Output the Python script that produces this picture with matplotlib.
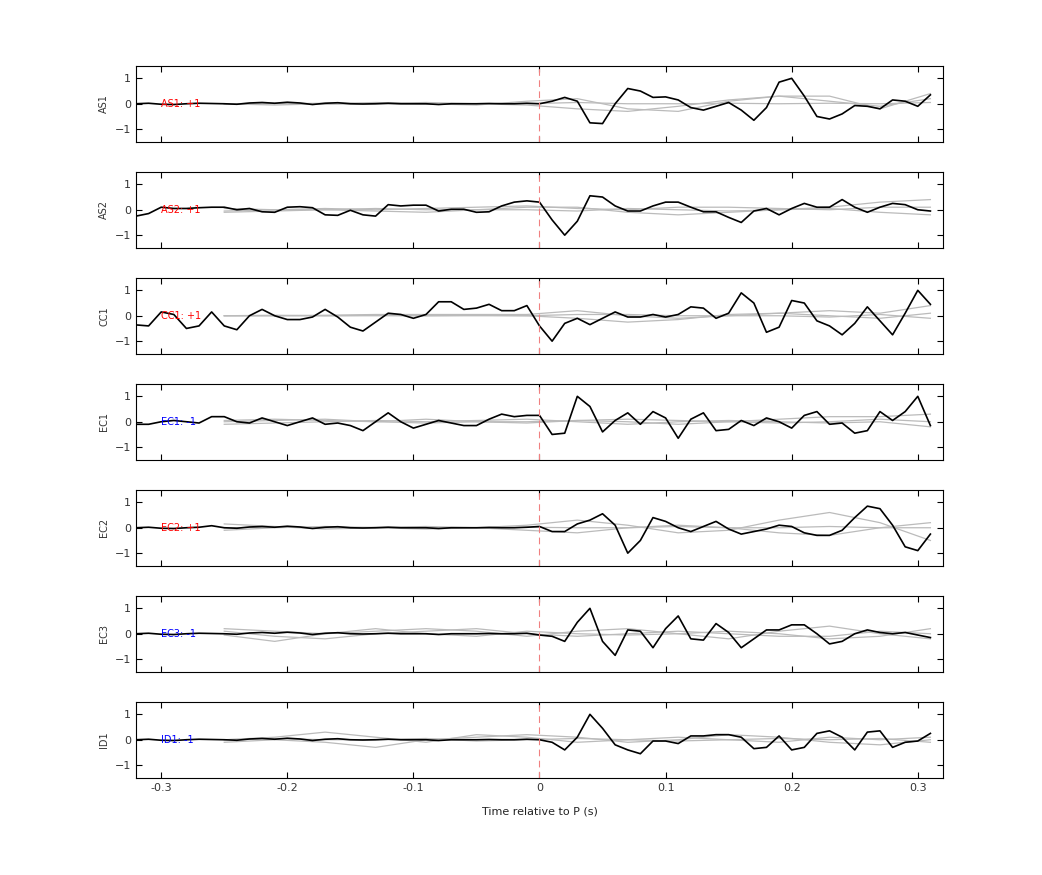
import numpy as np
import matplotlib.pyplot as plt

# time axis of the stacked traces (s)
t = np.round(np.arange(-0.32, 0.315, 0.01), 2)
tg = np.round(np.arange(-0.25, 0.32, 0.04), 2)

names = ['AS1', 'AS2', 'CC1', 'EC1', 'EC2', 'EC3', 'ID1']
polarity = ['+1', '+1', '+1', '-1', '+1', '-1', '-1']

pre_flat = [0, 0.02, -0.02, -0.03, 0, 0.02, 0.01, 0.0, -0.02, 0.03,
            0.05, 0.02, 0.06, 0.03, -0.03, 0.02, 0.04, 0.0, -0.01, 0.0,
            0.02, 0.0, 0.0, 0.0, -0.03, 0.0, 0.0, 0.0, 0.01, 0.0,
            0.0, 0.02]

as1 = pre_flat + [0, 0.1, 0.25, 0.1, -0.75, -0.78, 0, 0.6, 0.5, 0.25, 0.27,
                  0.15, -0.15, -0.25, -0.1, 0.05, -0.25, -0.65, -0.15, 0.85, 1.0,
                  0.3, -0.5, -0.6, -0.4, -0.07, -0.1, -0.2, 0.15, 0.1, -0.1, 0.35]
as2 = [-0.25, -0.15, 0.1, 0.05, 0.05, 0.08, 0.1, 0.1, 0.0, 0.05,
       -0.08, -0.1, 0.1, 0.12, 0.08, -0.2, -0.22, -0.02, -0.2, -0.25,
       0.2, 0.15, 0.18, 0.18, -0.05, 0.02, 0.02, -0.1, -0.08, 0.15,
       0.3, 0.35, 0.3, -0.4, -1.0, -0.45, 0.55, 0.5, 0.15, -0.05, -0.05,
       0.15, 0.3, 0.3, 0.1, -0.08, -0.08, -0.3, -0.5, -0.05, 0.05,
       -0.2, 0.05, 0.25, 0.1, 0.1, 0.4, 0.1, -0.1, 0.1, 0.25, 0.2, 0.0, -0.05]
cc1 = [-0.36, -0.4, 0.15, 0.05, -0.5, -0.4, 0.15, -0.4, -0.55, 0.0,
       0.25, 0.0, -0.15, -0.15, -0.05, 0.25, -0.05, -0.45, -0.6, -0.25,
       0.1, 0.05, -0.1, 0.05, 0.55, 0.55, 0.25, 0.3, 0.45, 0.2,
       0.2, 0.4, -0.4, -1.0, -0.3, -0.1, -0.35, -0.1, 0.15, -0.05, -0.05,
       0.05, -0.05, 0.05, 0.35, 0.3, -0.1, 0.1, 0.9, 0.5, -0.65,
       -0.45, 0.6, 0.5, -0.2, -0.4, -0.75, -0.3, 0.35, -0.2, -0.75, 0.1, 1.0, 0.45]
ec1 = [-0.1, -0.1, 0.0, 0.05, 0.0, -0.05, 0.2, 0.2, 0.0, -0.05,
       0.15, 0.0, -0.15, 0.0, 0.15, -0.1, -0.05, -0.15, -0.35, 0.0,
       0.35, 0.0, -0.25, -0.1, 0.05, -0.05, -0.15, -0.15, 0.1, 0.3,
       0.2, 0.25, 0.25, -0.5, -0.45, 1.0, 0.6, -0.4, 0.05, 0.35, -0.1,
       0.4, 0.15, -0.65, 0.1, 0.35, -0.35, -0.3, 0.05, -0.15, 0.15,
       0.0, -0.25, 0.25, 0.4, -0.1, -0.05, -0.45, -0.35, 0.4, 0.05, 0.4, 1.0, -0.15]
ec2 = pre_flat[:6] + [0.08] + pre_flat[7:] + [
    0.05, -0.15, -0.15, 0.15, 0.3, 0.55, 0.1, -1.0, -0.5, 0.4, 0.25,
    0.0, -0.15, 0.05, 0.25, -0.05, -0.25, -0.15, -0.05, 0.1, 0.05,
    -0.2, -0.3, -0.3, -0.1, 0.4, 0.85, 0.75, 0.1, -0.75, -0.9, -0.25]
ec3 = pre_flat + [-0.05, -0.1, -0.3, 0.45, 1.0, -0.3, -0.85, 0.15, 0.1, -0.55, 0.2,
                  0.7, -0.2, -0.25, 0.4, 0.05, -0.55, -0.2, 0.15, 0.15, 0.35,
                  0.35, 0.0, -0.4, -0.3, 0.0, 0.15, 0.05, 0.0, 0.05, -0.05, -0.15]
id1 = pre_flat + [0, -0.1, -0.4, 0.1, 1.0, 0.45, -0.2, -0.4, -0.55, -0.05, -0.05,
                  -0.15, 0.15, 0.15, 0.2, 0.2, 0.1, -0.35, -0.3, 0.15, -0.4,
                  -0.3, 0.25, 0.35, 0.1, -0.4, 0.3, 0.35, -0.3, -0.1, -0.05, 0.25]
traces = [as1, as2, cc1, ec1, ec2, ec3, id1]

# smooth grey comparison traces, coarse samples at tg
grey = [
    [[0, -0.05, 0.0, 0.05, 0.0, -0.05, 0.1, 0.2, -0.2, -0.3, 0.1, 0.3, 0.1, -0.1, 0.2],
     [0, 0.0, 0.02, 0.0, -0.02, 0.0, 0.0, 0.05, 0.0, 0.0, 0.02, 0.0, 0.02, 0.0, 0.05],
     [0, 0.02, -0.02, 0.0, 0.05, 0.0, -0.05, -0.2, -0.3, -0.1, 0.15, 0.3, 0.3, -0.2, 0.4]],
    [[-0.1, -0.05, 0.0, -0.05, -0.1, 0.0, 0.1, 0.1, -0.1, -0.2, -0.1, 0.0, 0.1, 0.3, 0.4],
     [0.05, 0.0, 0.05, 0.0, 0.05, 0.1, 0.15, 0.05, 0.0, 0.1, 0.1, 0.05, 0.0, 0.1, 0.1],
     [-0.05, 0.0, 0.0, 0.05, 0.0, 0.0, 0.0, -0.05, 0.05, 0.0, -0.05, 0.0, 0.05, -0.1, -0.2]],
    [[0, 0.0, 0.02, 0.05, 0.05, 0.05, 0.05, 0.2, 0.0, -0.1, 0.0, 0.1, 0.2, 0.1, 0.4],
     [0, 0.02, 0.0, 0.02, 0.0, 0.02, 0.0, -0.1, -0.25, -0.15, 0.05, 0.1, 0.0, -0.1, 0.1],
     [0, 0.0, 0.0, 0.0, 0.0, 0.0, 0.0, 0.05, 0.05, 0.0, 0.0, 0.0, -0.05, 0.05, -0.1]],
    [[0.05, 0.1, 0.05, 0.0, 0.1, 0.0, -0.05, 0.05, 0.0, -0.1, 0.0, 0.1, 0.2, 0.2, 0.3],
     [-0.1, -0.05, 0.0, 0.05, 0.0, 0.05, 0.1, 0.0, -0.1, 0.0, 0.05, 0.0, -0.05, 0.0, -0.2],
     [0.0, 0.05, 0.1, 0.0, -0.05, 0.0, 0.0, 0.05, 0.1, 0.05, 0.0, -0.05, 0.0, 0.1, 0.0]],
    [[0.15, 0.05, -0.05, 0.0, 0.05, 0.0, 0.1, 0.3, 0.1, -0.2, -0.1, 0.3, 0.6, 0.2, -0.5],
     [-0.1, 0.0, 0.05, 0.0, -0.05, 0.0, -0.1, -0.2, 0.0, 0.1, 0.0, -0.2, -0.3, 0.0, 0.2],
     [0.0, 0.02, 0.0, 0.02, 0.0, 0.0, 0.02, 0.0, 0.0, 0.05, 0.0, 0.0, 0.05, 0.0, 0.0]],
    [[0.2, 0.1, 0.0, 0.1, 0.2, 0.1, -0.1, 0.1, 0.2, 0.0, -0.2, 0.1, 0.3, 0.0, -0.2],
     [0.1, -0.1, -0.2, 0.0, 0.1, 0.2, 0.0, -0.1, 0.0, 0.1, 0.0, -0.1, -0.1, 0.1, 0.0],
     [-0.05, -0.3, 0.0, 0.2, 0.0, -0.1, 0.1, 0.0, -0.05, 0.0, 0.1, 0.0, -0.2, -0.1, 0.2]],
    [[0.0, 0.1, 0.3, 0.1, -0.1, 0.2, 0.1, -0.1, 0.0, 0.1, 0.0, -0.1, 0.1, 0.0, 0.1],
     [-0.1, 0.0, -0.1, -0.3, 0.0, 0.1, 0.2, 0.1, -0.1, 0.0, 0.2, 0.1, -0.1, -0.2, 0.0],
     [0.0, 0.05, 0.0, 0.0, 0.05, -0.05, 0.0, 0.05, 0.0, -0.05, 0.0, 0.05, 0.0, 0.05, -0.1]],
]

fig, axes = plt.subplots(7, 1, figsize=(10.42, 8.75), dpi=100, sharex=True)
fig.subplots_adjust(left=0.1305, right=0.905, top=0.925, bottom=0.111, hspace=0.39)

for i, ax in enumerate(axes):
    for g in grey[i]:
        ax.plot(tg, g, color='#bbbbbb', lw=0.9)
    ax.plot(t, traces[i], color='black', lw=1.2)
    ax.axvline(0, color='#f08080', lw=0.8, ls=(0, (6, 4)))
    col = 'red' if polarity[i] == '+1' else 'blue'
    ax.text(-0.3, 0, names[i] + ': ' + polarity[i], color=col, fontsize=7, va='center')
    ax.set_xlim(-0.32, 0.32)
    ax.set_ylim(-1.5, 1.5)
    ax.set_yticks([-1, 0, 1])
    ax.set_xticks([-0.3, -0.2, -0.1, 0, 0.1, 0.2, 0.3])
    ax.set_ylabel(names[i], fontsize=7, color='#333333')
    ax.tick_params(direction='in', top=True, right=True, labelsize=8, length=4,
                   labelcolor='#333333')

axes[-1].set_xticklabels(['-0.3', '-0.2', '-0.1', '0', '0.1', '0.2', '0.3'])
axes[-1].set_xlabel('Time relative to P (s)', fontsize=8, labelpad=10, color='#222222')

plt.savefig('out.png')
